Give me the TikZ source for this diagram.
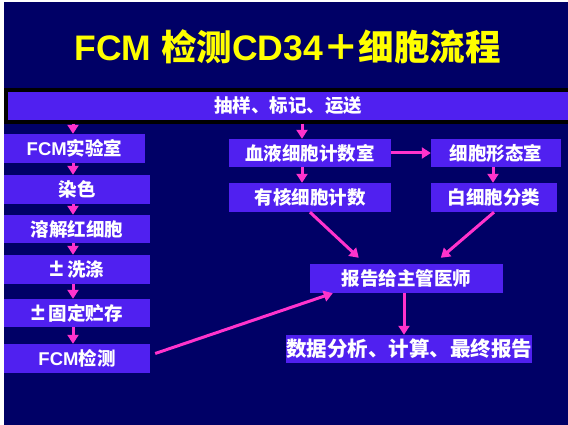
\documentclass[tikz,border=0pt]{standalone}
\usepackage{fontspec}
\setmainfont{Liberation Sans}
\newfontfamily\cjk{Noto Sans CJK SC}
\newfontfamily\lat{Liberation Sans}
\usetikzlibrary{arrows.meta,calc}
\definecolor{navy}{RGB}{0,0,102}
\definecolor{boxc}{RGB}{80,32,240}
\definecolor{mag}{RGB}{255,51,204}
\definecolor{ttl}{RGB}{255,255,0}
\newcommand\La[1]{{\lat\bfseries #1}}
\newcommand\PM{{\lat\bfseries\fontsize{25}{25}\selectfont ±}\hspace{4pt}}
\begin{document}
\begin{tikzpicture}[x=1pt,y=-1pt,
  box/.style={fill=boxc, text=white, inner sep=0pt, font=\cjk\bfseries\fontsize{18.5}{20}\selectfont},
  arr/.style={draw=mag, line width=3pt, -{Triangle[width=11pt,length=9pt]}}]
\useasboundingbox (0,0) rectangle (568,425);
\fill[white] (0,0) rectangle (568,425);
\fill[navy] (4,2) rectangle (568,425);
% title
\node[text=ttl, inner sep=0pt, anchor=base, font=\cjk\bfseries\fontsize{35.5}{40}\selectfont] (title) at (287.5,61)
  {\La{FCM }检测\La{CD34}＋细胞流程};
% top bar
\node[box, draw=black, line width=3.5pt, minimum width=564.5pt, minimum height=32pt] (bar) at (288,106) {抽样、标记、运送};
% left column
\node[box, minimum width=141pt, minimum height=29pt] (lab) at (74.5,148.5) {\La{FCM}实验室};
\node[box, minimum width=146pt, minimum height=29pt] (stain) at (77,189.5) {染色};
\node[box, minimum width=146pt, minimum height=28pt] (lyse) at (77,229) {溶解红细胞};
\node[box, minimum width=146pt, minimum height=29pt] (wash) at (77,269.5) {\PM 洗涤};
\node[box, minimum width=146pt, minimum height=28pt] (fix) at (77,313) {\PM 固定贮存};
\node[box, minimum width=146pt, minimum height=29pt] (fcm) at (77,358.5) {\La{FCM}检测};
% right part
\node[box, minimum width=162pt, minimum height=28pt] (blood) at (310,153) {血液细胞计数室};
\node[box, minimum width=130pt, minimum height=28pt] (morph) at (496,153) {细胞形态室};
\node[box, minimum width=162pt, minimum height=29pt] (nuc) at (310,197.5) {有核细胞计数};
\node[box, minimum width=126pt, minimum height=29pt] (wbc) at (494,197.5) {白细胞分类};
\node[box, minimum width=193pt, minimum height=29pt] (report) at (406.5,278.5) {报告给主管医师};
\node[box, minimum width=242pt, minimum height=28pt, font=\cjk\bfseries\fontsize{20.5}{22}\selectfont] (data) at (409,349) {数据分析、计算、最终报告};
% helper coordinates
\coordinate (lx) at (73,0);
\coordinate (bx) at (302,0);
\coordinate (mx) at (493,0);
\coordinate (rx) at (404,0);
% arrows left
\draw[arr] (bar.south -| lx) -- (lab.north -| lx);
\draw[arr] (lab.south -| lx) -- (stain.north -| lx);
\draw[arr] (stain.south -| lx) -- (lyse.north -| lx);
\draw[arr] (lyse.south -| lx) -- (wash.north -| lx);
\draw[arr] (wash.south -| lx) -- (fix.north -| lx);
\draw[arr] (fix.south -| lx) -- (fcm.north -| lx);
% arrows right
\draw[arr] (bar.south -| bx) -- (blood.north -| bx);
\draw[arr] (blood.south -| bx) -- (nuc.north -| bx);
\draw[arr] (blood.east) -- (morph.west);
\draw[arr] (morph.south -| mx) -- (wbc.north -| mx);
\draw[arr] (nuc.south) -- ([shift={(49,-6)}]report.north west);
\draw[arr] (wbc.south) -- ([shift={(131,-6)}]report.north west);
\draw[arr] (report.south -| rx) -- (data.north -| rx);
\draw[arr] ([shift={(5,-5)}]fcm.east) -- ([shift={(23,0)}]report.south west);
\end{tikzpicture}
\end{document}
